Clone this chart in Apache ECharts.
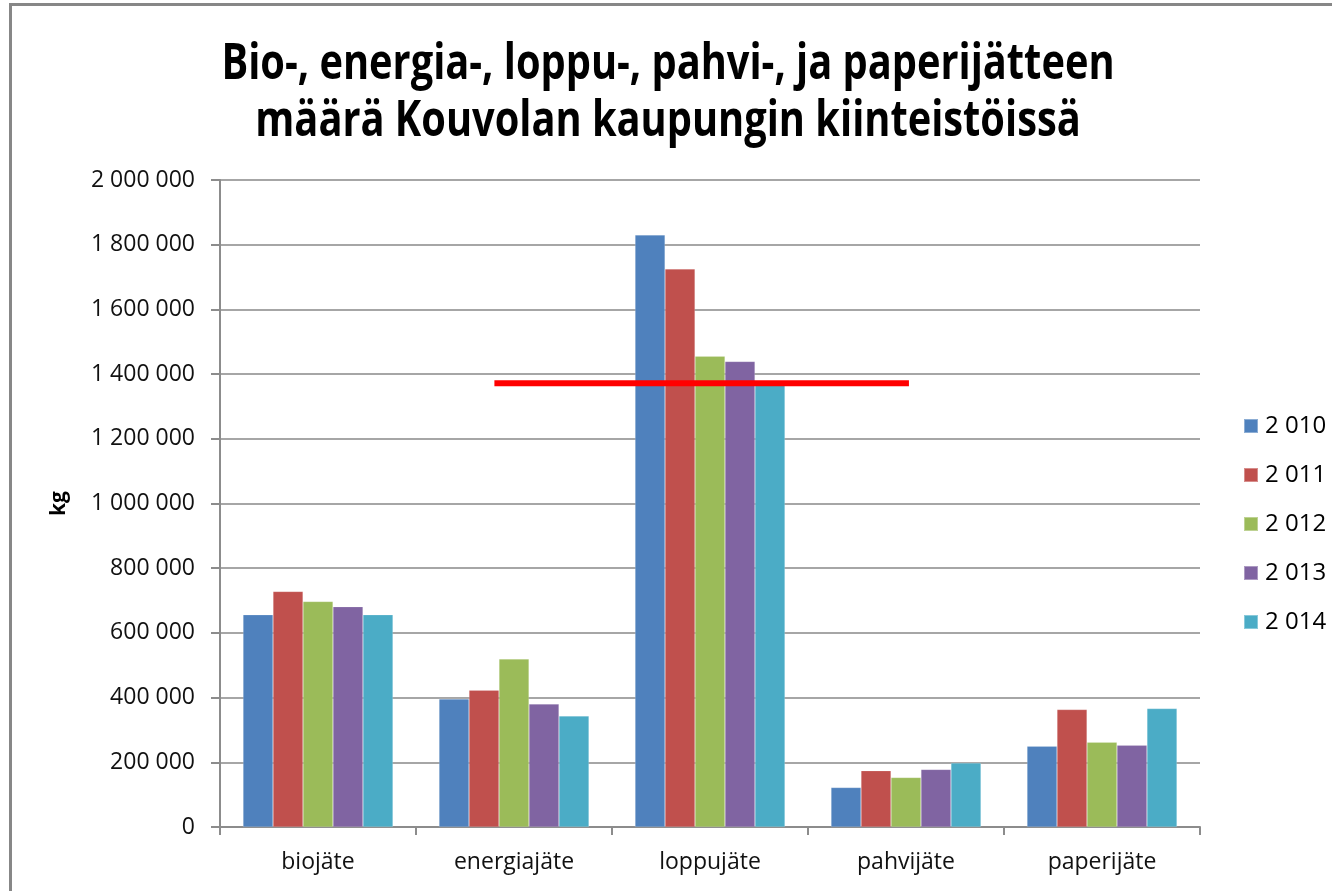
<!DOCTYPE html>
<html>
<head>
<meta charset="utf-8">
<script src="https://cdn.jsdelivr.net/npm/echarts@6/dist/echarts.min.js"></script>
<style>
  html, body { margin: 0; padding: 0; background: #fff; }
  #frame { position: absolute; left: 9px; top: 3px; width: 1400px; height: 960px; border: 3px solid #878787; }
  #chart { position: absolute; left: 0; top: 0; width: 1332px; height: 891px; }
</style>
</head>
<body>
<div id="frame"></div>
<div id="chart"></div>
<script>
// jätelajit
const categories = ['biojäte', 'energiajäte', 'loppujäte', 'pahvijäte', 'paperijäte'];
const years = ['2 010', '2 011', '2 012', '2 013', '2 014'];
// kg per vuosi, luettu kuvasta
const y2010 = [656000, 396000, 1830000, 122000, 250000];
const y2011 = [728000, 423000, 1725000, 174000, 363000];
const y2012 = [697000, 519000, 1455000, 153000, 262000];
const y2013 = [681000, 380000, 1439000, 178000, 253000];
const y2014 = [656000, 343000, 1370000, 198000, 366000];
const yTicks = [0, 200000, 400000, 600000, 800000, 1000000, 1200000, 1400000, 1600000, 1800000, 2000000];
// punainen viiva (merkintä), x kategoriayksiköissä
const markLevel = 1372000;
const markFrom = 1.4;
const markTo = 3.515;

const colors = ['#4F81BD', '#C0504D', '#9BBB59', '#8064A2', '#4BACC6'];
const values = [y2010, y2011, y2012, y2013, y2014];

const fmt = v => String(v).replace(/\B(?=(\d{3})+(?!\d))/g, ' ');

let chart = echarts.init(document.getElementById('chart'));

const series = years.map((name, i) => ({
  name,
  type: 'bar',
  barGap: '0%',
  barCategoryGap: '23.5%',
  itemStyle: { color: colors[i], borderColor: 'rgba(255,255,255,0.35)', borderWidth: 0.5 },
  data: values[i]
}));

series.push({
  name: 'merkintä',
  type: 'line',
  xAxisIndex: 1,
  symbol: 'none',
  silent: true,
  z: 5,
  lineStyle: { color: '#ff0000', width: 6 },
  data: [[markFrom, markLevel], [markTo, markLevel]]
});

let option = {
  animation: false,
  color: colors,
  textStyle: { fontFamily: 'Open Sans' },
  graphic: [{
    type: 'text',
    x: 668,
    y: 36,
    scaleX: 0.78,
    style: {
      text: 'Bio-, energia-, loppu-, pahvi-, ja paperijätteen\nmäärä Kouvolan kaupungin kiinteistöissä',
      font: 'bold 51px "Open Sans"',
      lineHeight: 57,
      fill: '#000',
      textAlign: 'center'
    }
  }],
  legend: {
    orient: 'vertical',
    left: 1238,
    top: 409,
    data: years,
    itemWidth: 14,
    itemHeight: 14,
    itemGap: 25,
    icon: 'rect',
    textStyle: { fontSize: 24, color: '#000', fontFamily: 'Open Sans', padding: [0, 0, 0, 2] }
  },
  grid: { left: 220, right: 132, top: 180, bottom: 64 },
  xAxis: [{
    type: 'category',
    data: categories,
    axisLine: { lineStyle: { color: '#8c8c8c', width: 2 } },
    axisTick: { show: true, length: 8, lineStyle: { color: '#8c8c8c', width: 2 } },
    axisLabel: { fontSize: 23, color: '#111', margin: 24 }
  }, {
    type: 'value',
    min: 0,
    max: categories.length,
    show: false
  }],
  yAxis: {
    type: 'value',
    min: yTicks[0],
    max: yTicks[yTicks.length - 1],
    interval: yTicks[1] - yTicks[0],
    name: 'kg',
    nameLocation: 'middle',
    nameGap: 150,
    nameTextStyle: { fontSize: 21, fontWeight: 'bold', color: '#000' },
    axisLine: { show: true, lineStyle: { color: '#8c8c8c', width: 2 } },
    axisTick: { show: true, inside: false, length: 9, lineStyle: { color: '#8c8c8c', width: 2 } },
    axisLabel: { fontSize: 23, color: '#111', margin: 25, formatter: fmt },
    splitLine: { lineStyle: { color: '#a6a6a6', width: 2 } }
  },
  series
};

chart.setOption(option);
window.addEventListener('resize', () => chart.resize(), false);
</script>
</body>
</html>
